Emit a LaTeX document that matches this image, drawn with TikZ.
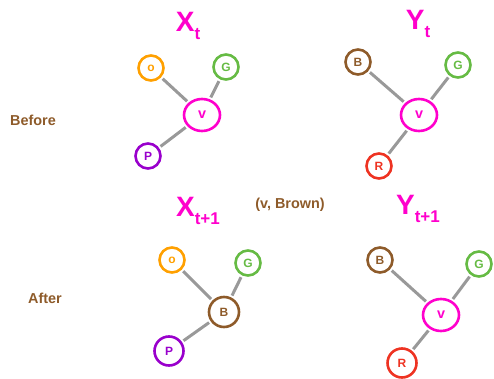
\documentclass[tikz,border=0pt]{standalone}
\usepackage{fontspec}
\setmainfont{Liberation Sans}
\usetikzlibrary{shapes.geometric}
\definecolor{mag}{HTML}{FF00CC}
\definecolor{orng}{HTML}{FFA000}
\definecolor{grn}{HTML}{66BB44}
\definecolor{brn}{HTML}{8E5B2A}
\definecolor{purp}{HTML}{9900CC}
\definecolor{redd}{HTML}{EE3322}
\definecolor{edgegray}{HTML}{999999}
\newcommand{\ttl}[2]{\textbf{#1}\raisebox{-0.6ex}{\fontsize{17}{17}\selectfont\textbf{#2}}}
\tikzset{
  vert/.style={draw=#1, text=#1, circle, line width=2.6pt, inner sep=0pt,
    minimum size=25pt, font=\large\bfseries},
  bigvert/.style={draw=#1, text=#1, ellipse, line width=2.6pt, inner sep=0pt,
    minimum width=36pt, minimum height=32pt, font=\Large\bfseries},
  link/.style={draw=edgegray, line width=3pt, shorten <=2pt, shorten >=2pt},
  title/.style={text=mag, font=\fontsize{28}{28}\selectfont},
  side/.style={text=brn, font=\Large\bfseries}
}
\begin{document}
\begin{tikzpicture}[x=1pt, y=-1pt]
\useasboundingbox (0,0) rectangle (494,379);

% side labels
\node[side] (before) at (33,120) {Before};
\node[side] (after) at (45,298) {After};
\node[side] (change) at (290,205) {(v, Brown)};

% titles
\node[title] (xt) at (188,26) {\ttl{X}{t}};
\node[title] (yt) at (418,24) {\ttl{Y}{t}};
\node[title] (xt1) at (198,211) {\ttl{X}{t+1}};
\node[title] (yt1) at (418,209) {\ttl{Y}{t+1}};

% X_t
\node[vert=orng] (xo) at (151,68) {o};
\node[vert=grn] (xg) at (226,67) {G};
\node[bigvert=mag] (xv) at (202,115) {v};
\node[vert=purp] (xp) at (148,156) {P};
\draw[link] (xo) -- (xv);
\draw[link] (xg) -- (xv);
\draw[link] (xp) -- (xv);

% Y_t
\node[vert=brn] (yb) at (358,62) {B};
\node[vert=grn] (yg) at (458,65) {G};
\node[bigvert=mag] (yv) at (419,115) {v};
\node[vert=redd] (yr) at (379,166) {R};
\draw[link] (yb) -- (yv);
\draw[link] (yg) -- (yv);
\draw[link] (yr) -- (yv);

% X_{t+1}
\node[vert=orng] (ao) at (172,260) {o};
\node[vert=grn] (ag) at (248,263) {G};
\node[vert=brn, minimum size=30pt] (ab) at (224,312) {B};
\node[vert=purp, minimum size=29pt] (ap) at (169,351) {P};
\draw[link] (ao) -- (ab);
\draw[link] (ag) -- (ab);
\draw[link] (ap) -- (ab);

% Y_{t+1}
\node[vert=brn] (bb) at (380,260) {B};
\node[vert=grn] (bg) at (479,264) {G};
\node[bigvert=mag] (bv) at (441,315) {v};
\node[vert=redd, minimum size=29pt] (br) at (402,363) {R};
\draw[link] (bb) -- (bv);
\draw[link] (bg) -- (bv);
\draw[link] (br) -- (bv);
\end{tikzpicture}
\end{document}
